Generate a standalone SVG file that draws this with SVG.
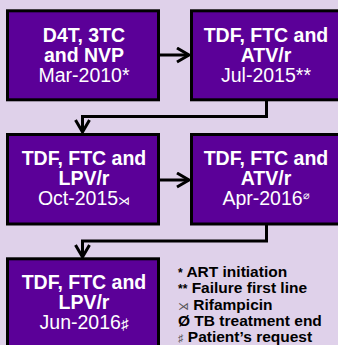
<svg xmlns="http://www.w3.org/2000/svg" width="338" height="345" viewBox="0 0 338 345">
<defs>
<style>
.box{fill:#5b0098;stroke:#000;stroke-width:3}
.t{font-family:"Liberation Sans",Arial,sans-serif;fill:#fff;text-anchor:middle;font-size:19.5px}
.b{font-weight:bold}
.c{fill:none;stroke:#000;stroke-width:3}
.lg{font-family:"Liberation Sans",Arial,sans-serif;fill:#000;font-size:15.5px;font-weight:bold}
.sm{font-size:11px;fill:#555;font-weight:normal}
</style>
<marker id="arr" markerUnits="userSpaceOnUse" markerWidth="18" markerHeight="18" refX="14" refY="8" orient="auto">
<path d="M2,1 L14,8 L2,15" fill="none" stroke="#000" stroke-width="3"/>
</marker>
</defs>
<rect width="338" height="345" fill="#dfd1ea"/>
<g id="connectors">
<path class="c" d="M159,55 H189" marker-end="url(#arr)"/>
<path class="c" d="M266.5,101 V116.5 H82.5 V132" marker-end="url(#arr)"/>
<path class="c" d="M159,180 H189" marker-end="url(#arr)"/>
<path class="c" d="M266.5,225 V241 H82.5 V257" marker-end="url(#arr)"/>
</g>
<g id="n1">
<rect class="box" x="7.5" y="10.8" width="151" height="89"/>
<text class="t b" x="84" y="41.7">D4T, 3TC</text>
<text class="t b" x="84" y="61.7">and NVP</text>
<text class="t" x="84" y="81.7">Mar-2010*</text>
</g>
<g id="n2">
<rect class="box" x="191.5" y="10.8" width="151" height="89"/>
<text class="t b" x="266" y="41.7">TDF, FTC and</text>
<text class="t b" x="266" y="61.7">ATV/r</text>
<text class="t" x="266" y="81.7">Jul-2015**</text>
</g>
<g id="n3">
<rect class="box" x="7.5" y="134.5" width="151" height="89.5"/>
<text class="t b" x="84" y="165">TDF, FTC and</text>
<text class="t b" x="84" y="185">LPV/r</text>
<text class="t" x="84" y="205">Oct-2015<tspan font-size="12">⋊</tspan></text>
</g>
<g id="n4">
<rect class="box" x="191.5" y="134.5" width="151" height="89.5"/>
<text class="t b" x="266" y="165">TDF, FTC and</text>
<text class="t b" x="266" y="185">ATV/r</text>
<text class="t" x="266" y="205">Apr-2016<tspan font-size="11" dy="-6">⌀</tspan></text>
</g>
<g id="n5">
<rect class="box" x="7.5" y="258.8" width="151" height="100"/>
<text class="t b" x="84" y="289">TDF, FTC and</text>
<text class="t b" x="84" y="309">LPV/r</text>
<text class="t" x="84" y="329">Jun-2016<tspan font-size="15" font-weight="bold">♯</tspan></text>
</g>
<g id="legend">
<text class="lg" x="178" y="276.7"><tspan font-size="12">*</tspan> ART initiation</text>
<text class="lg" x="178" y="293.3"><tspan font-size="12">**</tspan> Failure first line</text>
<text class="lg" x="178" y="309.5"><tspan class="sm">⋊</tspan> Rifampicin</text>
<text class="lg" x="178" y="325.7">Ø TB treatment end</text>
<text class="lg" x="178" y="341.7"><tspan class="sm">♯</tspan> Patient’s request</text>
</g>
</svg>
